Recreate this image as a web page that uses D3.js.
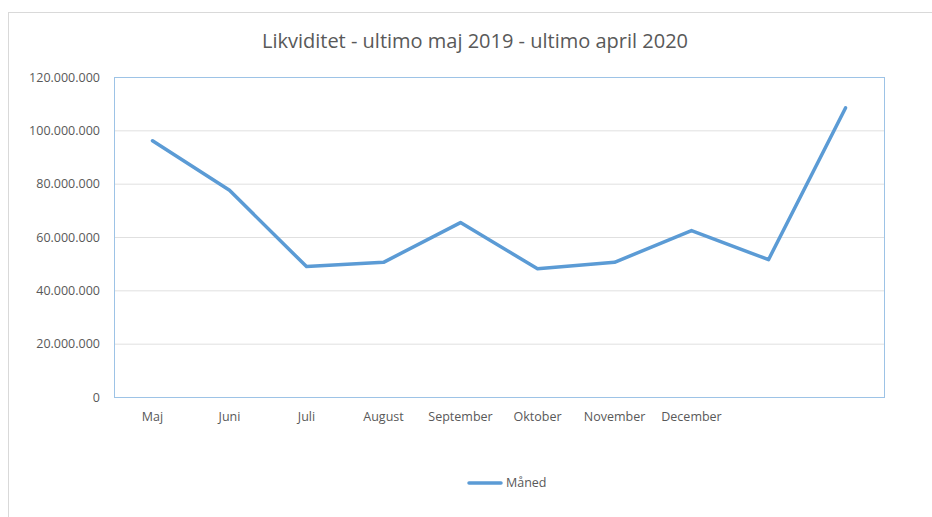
<!DOCTYPE html>
<html>
<head>
<meta charset="utf-8">
<script src="https://cdn.jsdelivr.net/npm/d3@7"></script>
<style>
  body { margin: 0; background: #fff; }
  text { font-family: "Open Sans", sans-serif; fill: #595959; }
</style>
</head>
<body>
<div id="chart"></div>
<script>
// Likviditet, ultimo maj 2019 - ultimo april 2020
var months = ["Maj", "Juni", "Juli", "August", "September", "Oktober", "November", "December", "", ""];
var values = [96100000, 77500000, 48900000, 50500000, 65400000, 48100000, 50500000, 62400000, 51500000, 108400000];
var yTicks = [0, 20000000, 40000000, 60000000, 80000000, 100000000, 120000000];

var W = 932, H = 517;
var margin = {top: 77, right: 48, bottom: 120, left: 114},
    width = W - margin.left - margin.right,
    height = H - margin.top - margin.bottom;

var svg = d3.select("#chart")
  .append("svg")
    .attr("width", W)
    .attr("height", H);

// outer chart border
svg.append("rect")
    .attr("x", 8.5).attr("y", 12.5)
    .attr("width", 940).attr("height", 520)
    .attr("fill", "none")
    .attr("stroke", "#d9d9d9");

svg.append("text")
    .attr("x", 475)
    .attr("y", 48)
    .attr("text-anchor", "middle")
    .style("font-size", "20px")
    .text("Likviditet - ultimo maj 2019 - ultimo april 2020");

var g = svg.append("g")
    .attr("transform", "translate(" + margin.left + "," + margin.top + ")");

var x = d3.scaleBand()
    .domain(d3.range(months.length))
    .range([0, width]);

var y = d3.scaleLinear()
    .domain([0, 120000000])
    .range([height, 0]);

var fmt = function(v) { return d3.format(",")(v).replace(/,/g, "."); };

// gridlines
g.selectAll(".grid")
  .data(yTicks.filter(function(d) { return d > 0 && d < 120000000; }))
  .enter()
  .append("line")
    .attr("x1", 0).attr("x2", width)
    .attr("y1", function(d) { return y(d) + 0.5; })
    .attr("y2", function(d) { return y(d) + 0.5; })
    .attr("stroke", "#e0e0e0");

// y axis labels
var yAxis = g.append("g")
    .call(d3.axisLeft(y).tickValues(yTicks).tickFormat(fmt).tickSize(0).tickPadding(14));
yAxis.select(".domain").remove();
yAxis.selectAll("text")
    .style("font-size", "12.5px")
    .attr("fill", "#595959");

// x axis labels
var xAxis = g.append("g")
    .attr("transform", "translate(0," + height + ")")
    .call(d3.axisBottom(x).tickFormat(function(i) { return months[i]; }).tickSize(0).tickPadding(15));
xAxis.select(".domain").remove();
xAxis.selectAll("text")
    .style("font-size", "12.5px")
    .attr("fill", "#595959");

// plot area border
g.append("rect")
    .attr("x", 0.5).attr("y", 0.5)
    .attr("width", width).attr("height", height)
    .attr("fill", "none")
    .attr("stroke", "#9dc3e6");

var line = d3.line()
    .x(function(d, i) { return x(i) + x.bandwidth() / 2; })
    .y(function(d) { return y(d); });

g.append("path")
    .datum(values)
    .attr("d", line)
    .attr("fill", "none")
    .attr("stroke", "#5b9bd5")
    .attr("stroke-width", 3.5)
    .attr("stroke-linejoin", "round")
    .attr("stroke-linecap", "round");

// legend
var leg = svg.append("g").attr("transform", "translate(469,483)");
leg.append("line")
    .attr("x1", 0).attr("x2", 32)
    .attr("stroke", "#5b9bd5")
    .attr("stroke-width", 3.5)
    .attr("stroke-linecap", "round");
leg.append("text")
    .attr("x", 37)
    .attr("dy", "0.35em")
    .style("font-size", "12.5px")
    .text("Måned");
</script>
</body>
</html>
